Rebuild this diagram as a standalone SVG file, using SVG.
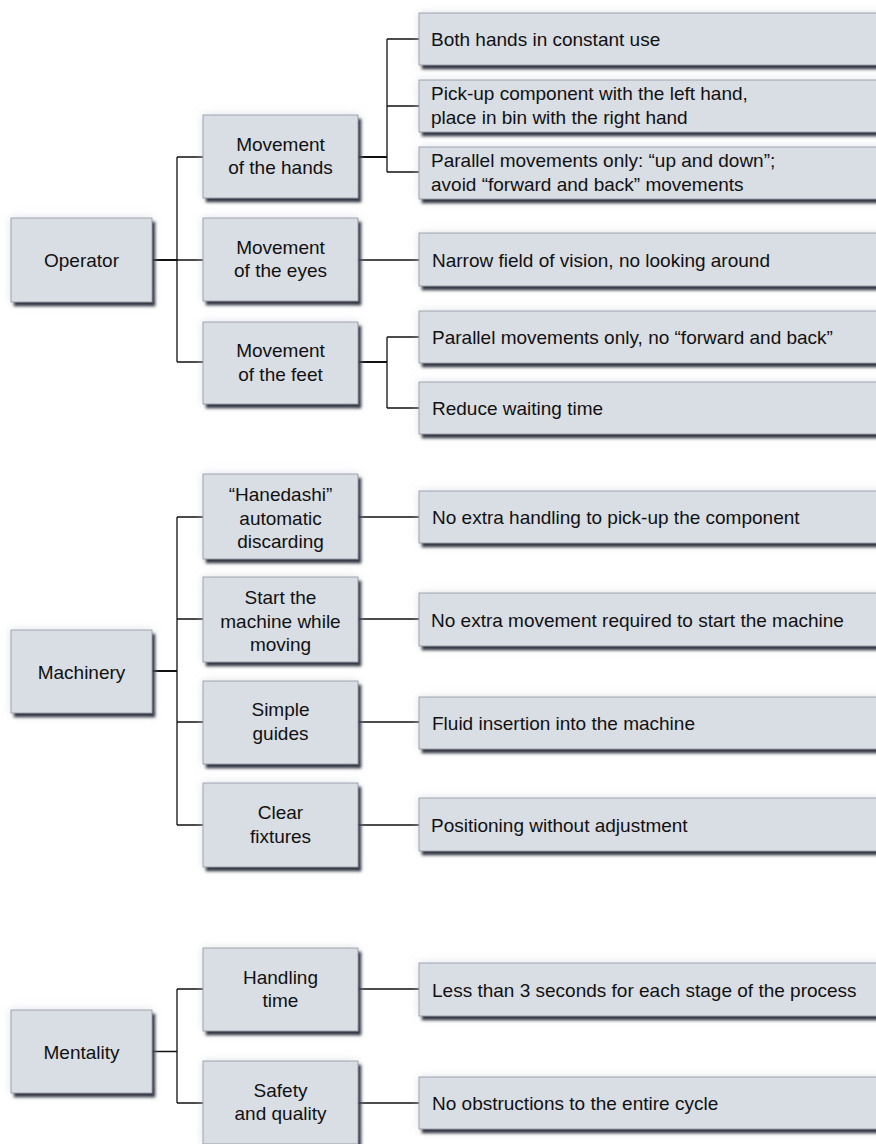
<svg xmlns="http://www.w3.org/2000/svg" width="876" height="1144" viewBox="0 0 876 1144">
<defs>
<filter id="sh" x="-10%" y="-20%" width="130%" height="160%">
<feGaussianBlur in="SourceAlpha" stdDeviation="4" result="g"/>
<feFlood flood-color="#c8ccd6" flood-opacity="0.6"/>
<feComposite in2="g" operator="in" result="glow"/>
<feOffset in="SourceAlpha" dx="3" dy="4" result="o"/>
<feGaussianBlur in="o" stdDeviation="1.8" result="b"/>
<feFlood flood-color="#262838" flood-opacity="0.95"/>
<feComposite in2="b" operator="in" result="dark"/>
<feMerge><feMergeNode in="glow"/><feMergeNode in="dark"/><feMergeNode in="SourceGraphic"/></feMerge>
</filter>
</defs>
<style>
.box{fill:#d9dde4;stroke:#8f939e;stroke-width:0.8;filter:url(#sh)}
text{font-family:"Liberation Sans",Arial,sans-serif;font-size:19px;fill:#111}
.c{text-anchor:middle}
.ln{fill:none;stroke:#111;stroke-width:1.3}
.lt{fill:none;stroke:#111;stroke-width:2}
</style>
<rect width="876" height="1144" fill="#ffffff"/>

<g id="connectors">
<path class="lt" d="M152 260H177"/>
<path class="ln" d="M177 157V362M177 157H203M177 260H203M177 362H203"/>
<path class="lt" d="M358 157H387"/>
<path class="ln" d="M387 39V172M387 39H419M387 106H419M387 172H419"/>
<path class="ln" d="M358 260H419"/>
<path class="lt" d="M358 362H387"/>
<path class="ln" d="M387 337V408M387 337H419M387 408H419"/>

<path class="lt" d="M152 671H177"/>
<path class="ln" d="M177 517V825M177 517H203M177 619H203M177 722H203M177 825H203"/>
<path class="ln" d="M358 517H419M358 619H419M358 722H419M358 825H419"/>

<path class="ln" d="M152 1051.5H177M177 989V1103M177 989H203M177 1103H203"/>
<path class="ln" d="M358 989H419M358 1103H419"/>
</g>

<g id="operator"><rect class="box" x="11" y="218" width="141" height="84"/><text class="c" x="81.5" y="267">Operator</text></g>
<g id="hands"><rect class="box" x="203" y="115" width="155" height="83"/><text class="c" x="280.5" y="150.5">Movement</text><text class="c" x="280.5" y="174">of the hands</text></g>
<g id="eyes"><rect class="box" x="203" y="218" width="155" height="83"/><text class="c" x="280.5" y="253.5">Movement</text><text class="c" x="280.5" y="277">of the eyes</text></g>
<g id="feet"><rect class="box" x="203" y="322" width="155" height="82"/><text class="c" x="280.5" y="357">Movement</text><text class="c" x="280.5" y="380.5">of the feet</text></g>

<g id="r-both"><rect class="box" x="419" y="13" width="470" height="52"/><text x="431" y="46">Both hands in constant use</text></g>
<g id="r-pick"><rect class="box" x="419" y="80" width="470" height="52"/><text x="431" y="100">Pick-up component with the left hand,</text><text x="431" y="123.5">place in bin with the right hand</text></g>
<g id="r-parallel1"><rect class="box" x="419" y="147" width="470" height="52"/><text x="431" y="167">Parallel movements only: “up and down”;</text><text x="431" y="190.5">avoid “forward and back” movements</text></g>
<g id="r-narrow"><rect class="box" x="419" y="233" width="470" height="53"/><text x="432" y="267">Narrow field of vision, no looking around</text></g>
<g id="r-parallel2"><rect class="box" x="419" y="311" width="470" height="52"/><text x="432" y="344">Parallel movements only, no “forward and back”</text></g>
<g id="r-reduce"><rect class="box" x="419" y="382" width="470" height="52"/><text x="432" y="415">Reduce waiting time</text></g>

<g id="machinery"><rect class="box" x="11" y="630" width="141" height="83"/><text class="c" x="81.5" y="678.5">Machinery</text></g>
<g id="hanedashi"><rect class="box" x="203" y="474" width="155" height="85"/><text class="c" x="280.5" y="501">“Hanedashi”</text><text class="c" x="280.5" y="524.5">automatic</text><text class="c" x="280.5" y="548">discarding</text></g>
<g id="start"><rect class="box" x="203" y="577" width="155" height="85"/><text class="c" x="280.5" y="604">Start the</text><text class="c" x="280.5" y="627.5">machine while</text><text class="c" x="280.5" y="651">moving</text></g>
<g id="guides"><rect class="box" x="203" y="681" width="155" height="83"/><text class="c" x="280.5" y="716">Simple</text><text class="c" x="280.5" y="739.5">guides</text></g>
<g id="fixtures"><rect class="box" x="203" y="783" width="155" height="84"/><text class="c" x="280.5" y="819">Clear</text><text class="c" x="280.5" y="842.5">fixtures</text></g>

<g id="r-handling"><rect class="box" x="419" y="491" width="470" height="52"/><text x="432" y="524">No extra handling to pick-up the component</text></g>
<g id="r-movement"><rect class="box" x="419" y="593" width="470" height="53"/><text x="431" y="626.5">No extra movement required to start the machine</text></g>
<g id="r-fluid"><rect class="box" x="419" y="697" width="470" height="52"/><text x="432" y="729.5">Fluid insertion into the machine</text></g>
<g id="r-positioning"><rect class="box" x="419" y="798" width="470" height="53"/><text x="431" y="832">Positioning without adjustment</text></g>

<g id="mentality"><rect class="box" x="11" y="1010" width="141" height="83"/><text class="c" x="81.5" y="1058.5">Mentality</text></g>
<g id="handling-time"><rect class="box" x="203" y="948" width="155" height="83"/><text class="c" x="280.5" y="983.5">Handling</text><text class="c" x="280.5" y="1007">time</text></g>
<g id="safety"><rect class="box" x="203" y="1061" width="155" height="83"/><text class="c" x="280.5" y="1096.5">Safety</text><text class="c" x="280.5" y="1120">and quality</text></g>

<g id="r-less"><rect class="box" x="419" y="963" width="470" height="53"/><text x="432" y="996.5">Less than 3 seconds for each stage of the process</text></g>
<g id="r-obstructions"><rect class="box" x="419" y="1077" width="470" height="52"/><text x="432" y="1110">No obstructions to the entire cycle</text></g>
</svg>
